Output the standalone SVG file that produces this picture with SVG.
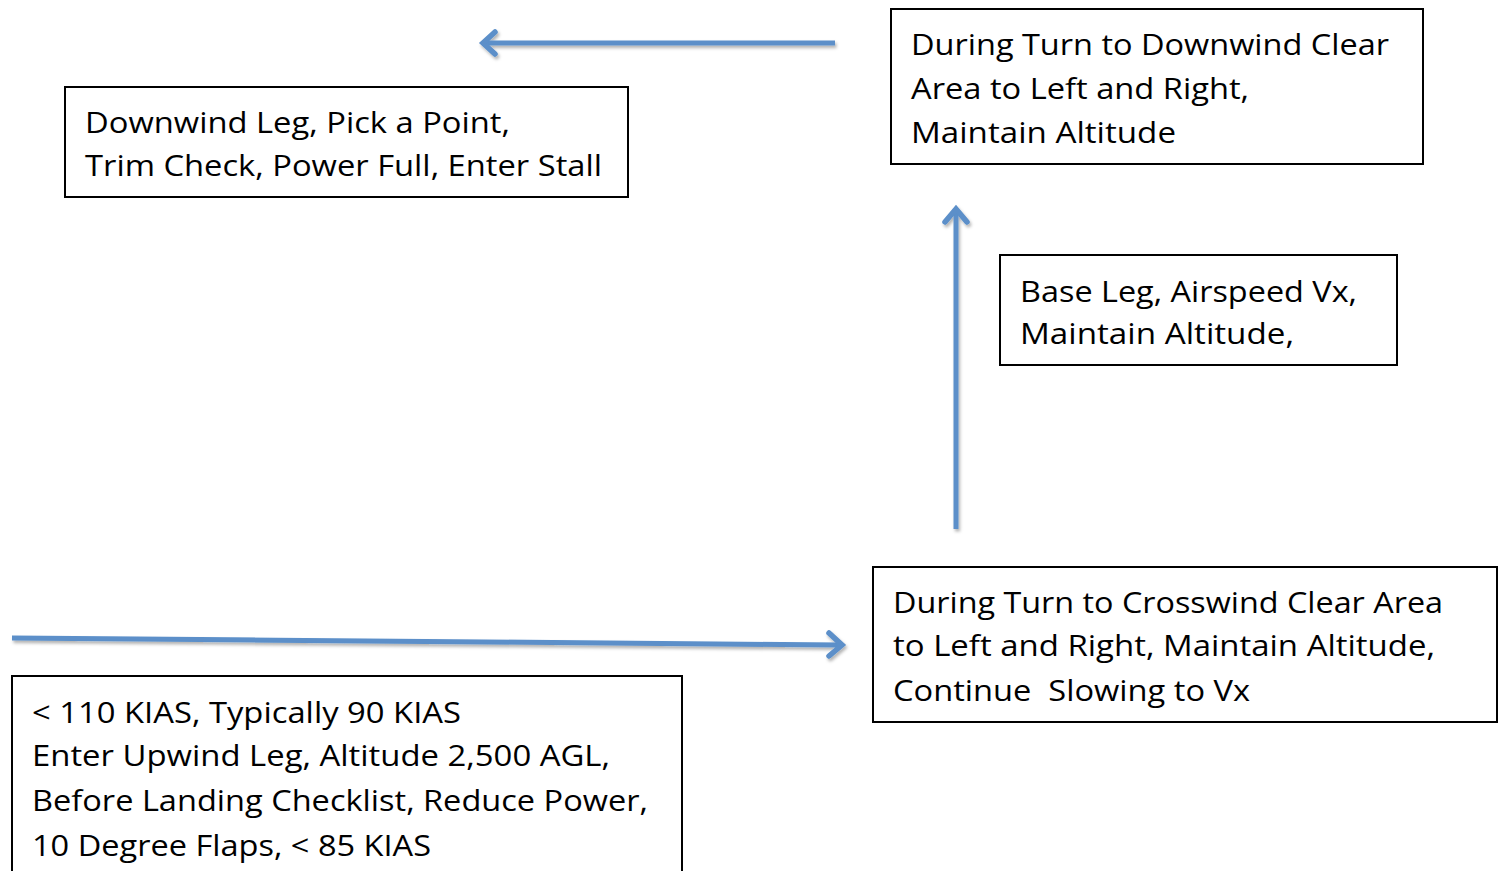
<svg xmlns="http://www.w3.org/2000/svg" width="1501" height="871" viewBox="0 0 1501 871">
<style>
.box{fill:#fff;stroke:#000;stroke-width:2}
.t{font-family:"Open Sans","Noto Sans",sans-serif;font-size:29px;fill:#000;white-space:pre}
.arr{stroke:#5b8fc9;stroke-width:5;fill:none;stroke-linecap:butt}
.head{stroke:#5b8fc9;stroke-width:5.5;fill:none;stroke-linecap:round;stroke-linejoin:miter}
</style>
<defs>
<filter id="sh" filterUnits="userSpaceOnUse" x="0" y="0" width="1501" height="871">
<feDropShadow dx="1.5" dy="2.5" stdDeviation="1.8" flood-color="#000" flood-opacity="0.3"/>
</filter>
</defs>
<rect width="1501" height="871" fill="#fff"/>
<g id="connectors" filter="url(#sh)">
<line class="arr" x1="835" y1="43" x2="486" y2="43"/>
<polyline class="head" points="495,32 483,43 495,54"/>
<line class="arr" x1="956" y1="529" x2="956" y2="211"/>
<polyline class="head" points="945,222 956,209 967,222"/>
<line class="arr" x1="12" y1="638" x2="840" y2="645"/>
<polyline class="head" points="829,633 842,645 829,656"/>
</g>
<g id="downwind">
<rect class="box" x="65" y="87" width="563" height="110"/>
<text class="t" x="85" y="133" textLength="425" lengthAdjust="spacingAndGlyphs">Downwind Leg, Pick a Point,</text>
<text class="t" x="85" y="176" textLength="517" lengthAdjust="spacingAndGlyphs">Trim Check, Power Full, Enter Stall</text>
</g>
<g id="turn-downwind">
<rect class="box" x="891" y="9" width="532" height="155"/>
<text class="t" x="911" y="55" textLength="478" lengthAdjust="spacingAndGlyphs">During Turn to Downwind Clear</text>
<text class="t" x="911" y="99" textLength="338" lengthAdjust="spacingAndGlyphs">Area to Left and Right,</text>
<text class="t" x="911" y="143" textLength="265" lengthAdjust="spacingAndGlyphs">Maintain Altitude</text>
</g>
<g id="base">
<rect class="box" x="1000" y="255" width="397" height="110"/>
<text class="t" x="1020" y="302" textLength="337" lengthAdjust="spacingAndGlyphs">Base Leg, Airspeed Vx,</text>
<text class="t" x="1020" y="344" textLength="274" lengthAdjust="spacingAndGlyphs">Maintain Altitude,</text>
</g>
<g id="turn-crosswind">
<rect class="box" x="873" y="567" width="624" height="155"/>
<text class="t" x="893" y="613" textLength="550" lengthAdjust="spacingAndGlyphs">During Turn to Crosswind Clear Area</text>
<text class="t" x="893" y="656" textLength="542" lengthAdjust="spacingAndGlyphs">to Left and Right, Maintain Altitude,</text>
<text class="t" x="893" y="701" textLength="357" lengthAdjust="spacingAndGlyphs">Continue  Slowing to Vx</text>
</g>
<g id="upwind">
<rect class="box" x="12" y="676" width="670" height="210"/>
<text class="t" x="32" y="723" textLength="429" lengthAdjust="spacingAndGlyphs">&lt; 110 KIAS, Typically 90 KIAS</text>
<text class="t" x="32" y="766" textLength="578" lengthAdjust="spacingAndGlyphs">Enter Upwind Leg, Altitude 2,500 AGL,</text>
<text class="t" x="32" y="811" textLength="616" lengthAdjust="spacingAndGlyphs">Before Landing Checklist, Reduce Power,</text>
<text class="t" x="32" y="856" textLength="399" lengthAdjust="spacingAndGlyphs">10 Degree Flaps, &lt; 85 KIAS</text>
</g>
</svg>
